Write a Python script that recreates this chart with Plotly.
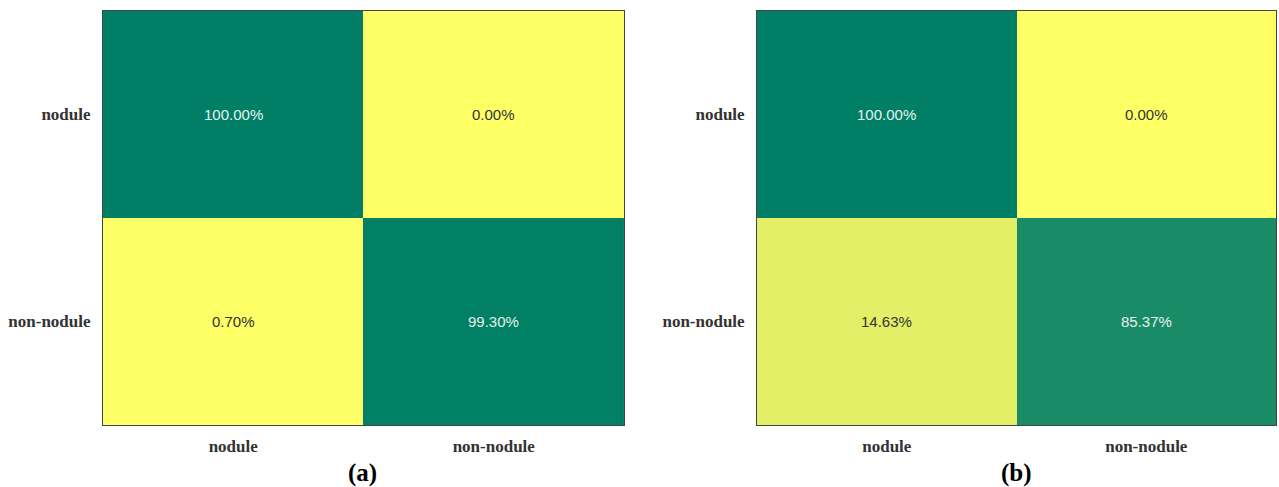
import plotly.graph_objects as go
from plotly.subplots import make_subplots

# Row = true class, column = predicted class (row-normalised rates)
classes = ["nodule", "non-nodule"]
matrix_a = [[1.0000, 0.0000],
            [0.0070, 0.9930]]
matrix_b = [[1.0000, 0.0000],
            [0.1463, 0.8537]]
panel_labels = ["(a)", "(b)"]

# reversed "summer"-style colour map: high rate -> green, low rate -> yellow
summer_r = [[0.0, "#FFFF66"], [0.15, "#E2EF66"],
            [0.85, "#1A8B66"], [1.0, "#007F66"]]

fig = make_subplots(rows=1, cols=2)

label_font = dict(family="Liberation Serif, Times New Roman, serif",
                  size=17, color="#333333")

for i, mat in enumerate([matrix_a, matrix_b]):
    col = i + 1
    fig.add_trace(
        go.Heatmap(
            z=mat, x=classes, y=classes,
            colorscale=summer_r, zmin=0, zmax=1,
            showscale=False, hoverinfo="skip",
        ),
        row=1, col=col,
    )
    xa = "x" if i == 0 else "x2"
    ya = "y" if i == 0 else "y2"
    for r, row_name in enumerate(classes):
        for c, col_name in enumerate(classes):
            v = mat[r][c]
            fig.add_annotation(
                x=col_name, y=row_name, xref=xa, yref=ya,
                text=f"{v * 100:.2f}%", showarrow=False,
                font=dict(family="Liberation Sans, Arial, sans-serif", size=15,
                          color="#E6F2EC" if v > 0.5 else "#333333"),
            )

xdomains = [[0.0805, 0.4879], [0.5919, 0.9977]]
ydomain = [0.1273, 0.9774]
for i in range(2):
    fig.update_xaxes(domain=xdomains[i], row=1, col=i + 1,
                     showline=True, mirror=True, linecolor="#444444", linewidth=1,
                     ticks="", showgrid=False, zeroline=False,
                     tickfont=label_font, ticklabelstandoff=6,
                     tickprefix="<b>", ticksuffix="</b>")
    fig.update_yaxes(domain=ydomain, row=1, col=i + 1,
                     autorange="reversed",
                     showline=True, mirror=True, linecolor="#444444", linewidth=1,
                     ticks="", showgrid=False, zeroline=False,
                     tickfont=label_font, ticklabelstandoff=8,
                     tickprefix="<b>", ticksuffix="</b>")

caption_x = [362 / 1279, 1016 / 1279]
for tag, cx in zip(panel_labels, caption_x):
    fig.add_annotation(
        x=cx, y=1 - 473 / 487, xref="paper", yref="paper",
        xanchor="center", yanchor="middle",
        text=f"<b>{tag}</b>", showarrow=False,
        font=dict(family="Liberation Serif, Times New Roman, serif",
                  size=25, color="#000000"),
    )

fig.update_layout(
    width=1279, height=487,
    margin=dict(l=0, r=0, t=0, b=0),
    paper_bgcolor="white", plot_bgcolor="white",
    showlegend=False,
)

fig.write_html("out.html")
